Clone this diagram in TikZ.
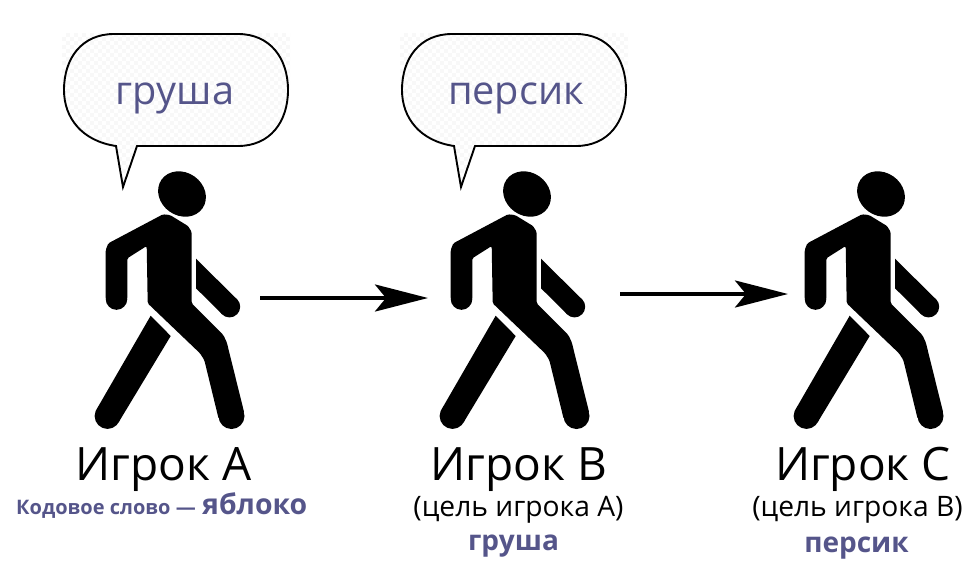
\documentclass[tikz,border=0pt]{standalone}
\usepackage{fontspec}
\setmainfont{Open Sans}
\usetikzlibrary{arrows.meta}
\definecolor{accent}{HTML}{55558A}
\definecolor{bubblefill}{HTML}{F8F8F8}
\tikzset{
  x=1pt,y=-1pt,
  walker/.pic={
    \fill[black,rotate around={-35:(97,34)}] (97,34) ellipse [x radius=25,y radius=21.5];
    \fill[black,rounded corners=1.5pt] (78,54.3) -- (85,55) -- (103,66) -- (106.7,72) -- (106.7,143.3) -- (138.3,175) -- (141.7,182)
      -- (159.3,253) -- (133.7,259) -- (119.3,200) -- (115,193.3) -- (62.7,143.3) -- (61.7,86) -- (42.3,98.3) -- (42.3,139)
      -- (20.7,139) -- (20.7,90) -- (23.3,83.3) -- cycle;
    \fill[black] (146.5,256) circle[radius=13];
    \fill[black] (31.5,139) circle[radius=10.8];
    \fill[black] (111,98.7) -- (152,139.3) -- (137,154) -- (111,128.3) -- cycle;
    \fill[black] (144.5,146.7) circle[radius=10.7];
    \fill[black] (65.7,155.7) -- (85.7,176) -- (33.5,262.5) -- (11.5,249.5) -- cycle;
    \fill[black] (22.5,256) circle[radius=12.9];
  },
  bubble/.pic={
    \begin{scope}
      \clip (62,33) -- (290,33) -- (290,90) -- (288,90)
        .. controls (288,122) and (270,146) .. (238,146) -- (137,146) -- (123,187) -- (116,146)
        .. controls (82,141) and (64,118) .. (64,90) -- (62,90) -- cycle;
      \foreach \i in {0,...,57}
        \foreach \j in {0,...,38}
          {\ifodd\numexpr\i+\j\relax
             \fill[bubblefill] (62+4*\i,33+4*\j) rectangle ++(4,4);
           \fi}
    \end{scope}
    \path[draw=black,line width=1.9pt]
      (116,146) -- (123,187) -- (137,146) -- (238,146)
      .. controls (270,146) and (288,122) .. (288,90)
      .. controls (288,58) and (270,34) .. (238,34)
      -- (114,34)
      .. controls (82,34) and (64,58) .. (64,90)
      .. controls (64,118) and (82,141) .. (116,146) -- cycle;
  },
  bubbletext/.style={text=accent,font=\fontsize{39.7}{40}\selectfont,anchor=base,inner sep=0pt},
  playername/.style={text=black,font=\fontsize{46}{46}\selectfont,anchor=base,inner sep=0pt},
  goalnote/.style={text=black,font=\fontsize{28.2}{29}\selectfont,anchor=base,inner sep=0pt},
  codeword/.style={text=accent,font=\bfseries\fontsize{28}{28}\selectfont,anchor=base,inner sep=0pt},
  flow/.style={line width=4pt,-{Stealth[length=53pt,width=27pt,inset=11pt]}},
}
\begin{document}
\begin{tikzpicture}
\useasboundingbox (0,0) rectangle (978,587);
\pic at (0,0) {bubble};
\pic at (338,0) {bubble};
\pic at (85,160) {walker};
\pic at (430,160) {walker};
\pic at (784,160) {walker};
\node[bubbletext] (w1) at (175,104) {груша};
\node[bubbletext] (w2) at (516,104) {персик};
\node[playername] (pa) at (163.5,480) {Игрок А};
\node[playername] (pb) at (519,480) {Игрок В};
\node[playername] (pc) at (863,480) {Игрок С};
\node[text=accent,font=\bfseries\fontsize{20}{20}\selectfont,anchor=base west,inner sep=0pt] (code) at (16,514) {Кодовое слово —};
\node[codeword,anchor=base west,font=\bfseries\fontsize{28.4}{28}\selectfont] (apple) at (202,514) {яблоко};
\node[goalnote] (na) at (518.5,516) {(цель игрока А)};
\node[goalnote] (nb) at (857.5,516) {(цель игрока В)};
\node[codeword] (ga) at (513.5,550) {груша};
\node[codeword] (gb) at (856.5,552) {персик};
\coordinate (a1) at (260,298);
\coordinate (a2) at (428,298);
\coordinate (b1) at (620,294);
\coordinate (b2) at (788,294);
\draw[flow] (a1) -- (a2);
\draw[flow] (b1) -- (b2);
\end{tikzpicture}
\end{document}
